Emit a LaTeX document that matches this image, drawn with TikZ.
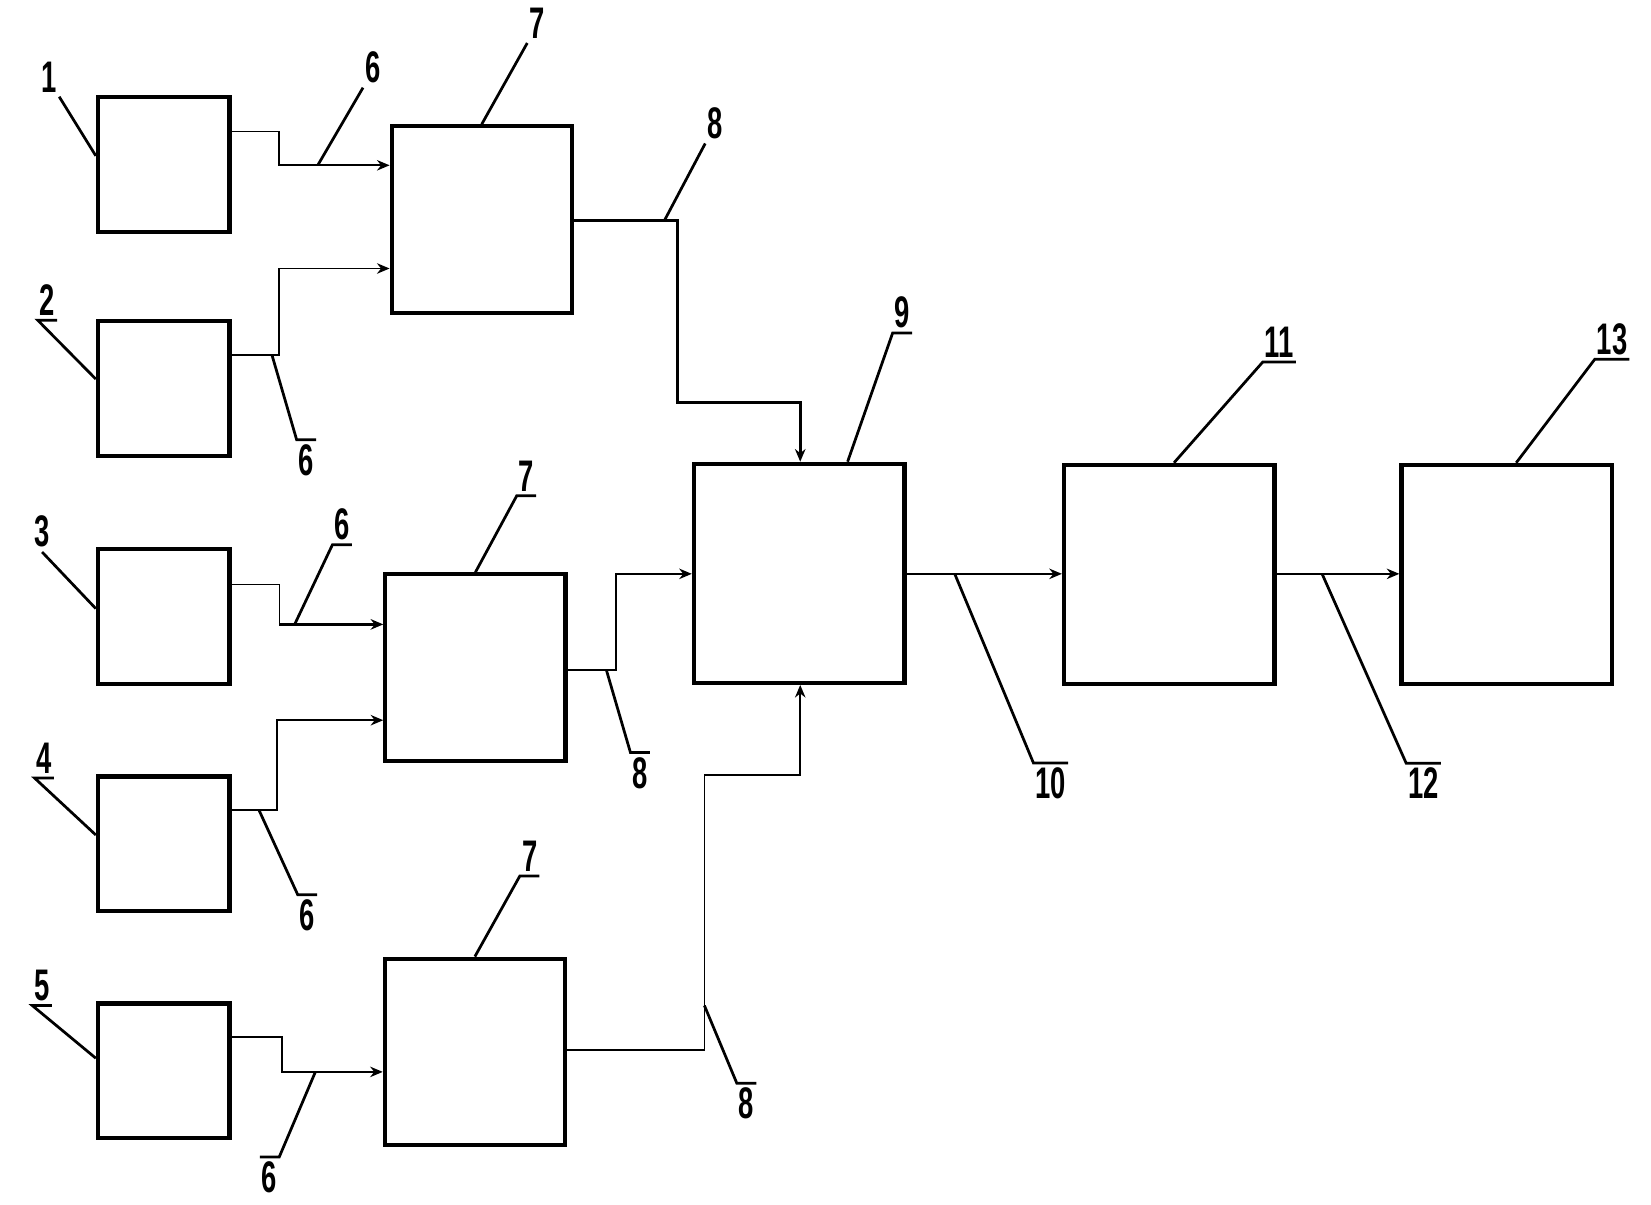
\documentclass[tikz,border=0pt]{standalone}
\usepackage{fontspec}
\newfontfamily\tagfont[FakeStretch=0.62]{Liberation Sans}
\usetikzlibrary{arrows.meta}
\tikzset{
  blk/.style={draw, line width=2pt, inner sep=0pt},
  small/.style={blk, minimum width=62.5pt, minimum height=64pt},
  mid/.style={blk, minimum width=85.5pt, minimum height=88.5pt},
  big/.style={blk, minimum width=100pt, minimum height=104pt},
  link/.style={line width=0.8pt, -{Stealth[length=6pt,width=5pt]}},
  lead/.style={line width=1.3pt},
  tag/.style={font=\tagfont\bfseries\fontsize{21}{21}\selectfont, inner xsep=0.8pt, inner ysep=2pt}
}

\begin{document}
\begin{tikzpicture}[x=0.5pt, y=-0.5pt]
  \useasboundingbox (0,0) rectangle (1568,1144);
  % blocks
  \node[small] (b1) at (155.5,156) {};
  \node[small] (b2) at (155.5,369) {};
  \node[small] (b3) at (155.5,585.5) {};
  \node[small] (b4) at (155.5,801.5) {};
  \node[small] (b5) at (155.5,1017) {};
  \node[mid] (b7a) at (457.5,208.5) {};
  \node[mid] (b7b) at (451.5,634) {};
  \node[mid] (b7c) at (451,999) {};
  \node[big] (b9) at (759,544.5) {};
  \node[big] (b11) at (1110.5,545.5) {};
  \node[big] (b13) at (1431,545.5) {};
  % wires
  \draw[link] (b1.east |- 0,125) -| (265,157) -- coordinate[pos=0.35] (w6a) (b7a.west |- 0,157);
  \draw[link] (b2.east |- 0,337) -- coordinate[pos=0.85] (w6b) (265,337) |- (b7a.west |- 0,255);
  \draw (b3.east |- 0,555) -| (265,593);
  \draw[link, line width=1.6pt] (265,593) -- coordinate[pos=0.15] (w6c) (b7b.west |- 0,593);
  \draw[link] (b4.east |- 0,769) -- coordinate[pos=0.6] (w6d) (263,769) |- (b7b.west |- 0,684);
  \draw[link] (b5.east |- 0,985) -| (268,1018) -- coordinate[pos=0.33] (w6e) (b7c.west |- 0,1018);
  \draw[link, line width=1.4pt] (b7a.east |- 0,209) -- coordinate[pos=0.88] (w8a) (643,209) |- (760,382) -- (b9.north -| 760,0);
  \draw[link] (b7b.east |- 0,636) -- coordinate[pos=0.8] (w8b) (585,636) |- (b9.west |- 0,545);
  \draw[link] (b7c.east |- 0,997) -| (669,736) coordinate (k8) -| (b9.south -| 760,0);
  \draw[link] (b9.east |- 0,545) -- coordinate[pos=0.31] (w10) (b11.west |- 0,545);
  \draw[link] (b11.east |- 0,545) -- coordinate[pos=0.37] (w12) (b13.west |- 0,545);
  % tags
  \node[tag] (l1) at (47,73) {1};
  \node[tag] (l2) at (45,285) {2};
  \node[tag] (l3) at (40,505) {3};
  \node[tag] (l4) at (42,720) {4};
  \node[tag] (l5) at (40,936) {5};
  \node[tag] (l6a) at (354,64) {6};
  \node[tag] (l6b) at (291,437) {6};
  \node[tag] (l6c) at (325,498) {6};
  \node[tag] (l6d) at (292,869) {6};
  \node[tag] (l6e) at (256,1118) {6};
  \node[tag] (l7a) at (510,22) {7};
  \node[tag] (l7b) at (500,452) {7};
  \node[tag] (l7c) at (503,813) {7};
  \node[tag] (l8a) at (679,117) {8};
  \node[tag] (l8b) at (608,734) {8};
  \node[tag] (l8c) at (709,1048) {8};
  \node[tag] (l9) at (857,297) {9};
  \node[tag] (l10) at (998,744) {10};
  \node[tag] (l11) at (1215,325) {11};
  \node[tag] (l12) at (1352,744) {12};
  \node[tag] (l13) at (1531,322) {13};
  % leaders
  \draw[lead] (l1.south east) -- (b1.west |- 0,148);
  \draw[lead] (l2.south east) -- (l2.south west) -- (b2.west |- 0,360);
  \draw[lead] (l3.south) -- (b3.west |- 0,578);
  \draw[lead] (l4.south east) -- (l4.south west) -- (b4.west |- 0,793);
  \draw[lead] (l5.south east) -- (l5.south west) -- (b5.west |- 0,1005);
  \draw[lead] (l6a.south west) -- (w6a);
  \draw[lead] (l6b.north east) -- (l6b.north west) -- (w6b);
  \draw[lead] (l6c.south east) -- (l6c.south west) -- (w6c);
  \draw[lead] (l6d.north east) -- (l6d.north west) -- (w6d);
  \draw[lead] (l6e.north west) -- (l6e.north east) -- (w6e);
  \draw[lead] (l7a.south west) -- (b7a.north);
  \draw[lead] (l7b.south east) -- (l7b.south west) -- (b7b.north);
  \draw[lead] (l7c.south east) -- (l7c.south west) -- (b7c.north);
  \draw[lead] (l8a.south west) -- (w8a);
  \draw[lead] (l8b.north east) -- (l8b.north west) -- (w8b);
  \draw[lead] (l8c.north east) -- (l8c.north west) -- (k8 |- 0,955);
  \draw[lead] (l9.south east) -- (l9.south west) -- (b9.north -| 805,0);
  \draw[lead] (l10.north east) -- (l10.north west) -- (w10);
  \draw[lead] (l11.south east) -- (l11.south west) -- (b11.north -| 1115,0);
  \draw[lead] (l12.north east) -- (l12.north west) -- (w12);
  \draw[lead] (l13.south east) -- (l13.south west) -- (b13.north -| 1440,0);
\end{tikzpicture}
\end{document}
